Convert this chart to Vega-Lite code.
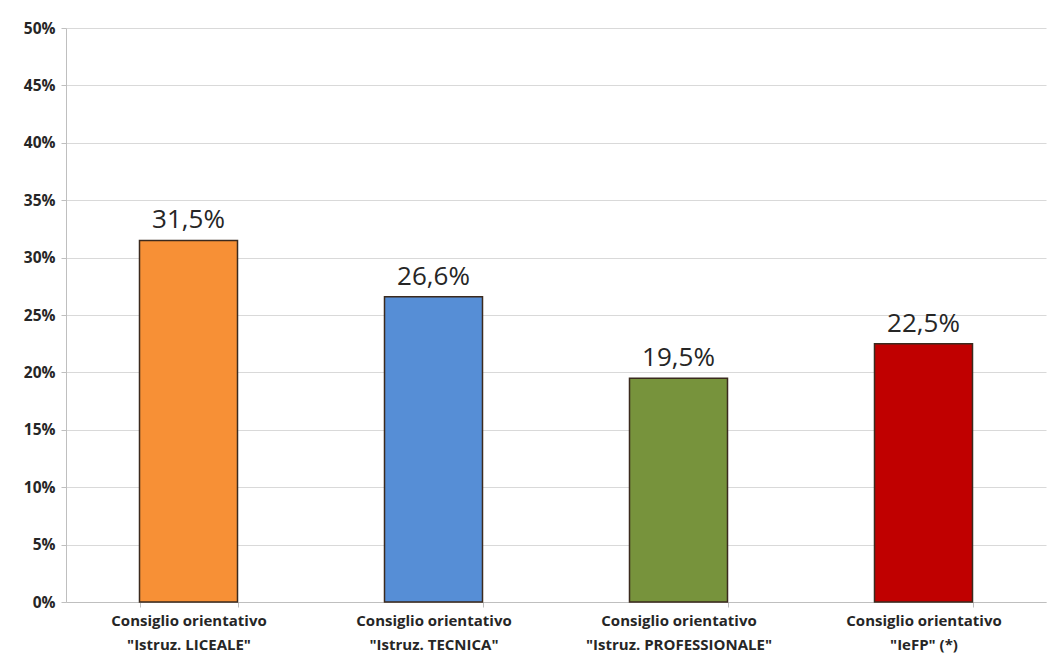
{
  "$schema": "https://vega.github.io/schema/vega-lite/v6.json",
  "width": 1048,
  "height": 660,
  "autosize": {"type": "fit", "contains": "padding"},
  "padding": {"left": 23, "top": 21, "right": 2, "bottom": 8},
  "background": "white",
  "config": {
    "locale": {"number": {"decimal": ",", "thousands": ".", "grouping": [3], "currency": ["€", ""]}},
    "view": {"stroke": null},
    "font": "Open Sans"
  },
  "data": {
    "values": [
      {"cat": "Consiglio orientativo\n\"Istruz. LICEALE\"", "value": 0.315, "color": "liceale"},
      {"cat": "Consiglio orientativo\n\"Istruz. TECNICA\"", "value": 0.266, "color": "tecnica"},
      {"cat": "Consiglio orientativo\n\"Istruz. PROFESSIONALE\"", "value": 0.195, "color": "prof"},
      {"cat": "Consiglio orientativo\n\"IeFP\" (*)", "value": 0.225, "color": "iefp"}
    ]
  },
  "encoding": {
    "x": {
      "field": "cat", "type": "nominal", "sort": null,
      "scale": {"paddingInner": 0.6, "paddingOuter": 0.3},
      "axis": {
        "title": null, "labelAngle": 0, "labelLimit": 0,
        "labelExpr": "split(datum.label, '\\n')",
        "labelFont": "Open Sans", "labelFontSize": 15, "labelFontWeight": "bold",
        "labelColor": "#262626", "labelPadding": 6, "labelLineHeight": 24,
        "domainColor": "#bfbfbf", "tickColor": "#bfbfbf", "tickBand": "extent", "tickSize": 5,
        "grid": false
      }
    },
    "y": {
      "field": "value", "type": "quantitative",
      "scale": {"domain": [0, 0.5]},
      "axis": {
        "title": null, "format": ".0%",
        "values": [0, 0.05, 0.1, 0.15, 0.2, 0.25, 0.3, 0.35, 0.4, 0.45, 0.5],
        "labelFont": "Open Sans", "labelFontSize": 15.5, "labelFontWeight": "bold",
        "labelColor": "#262626", "labelPadding": 6,
        "domainColor": "#bfbfbf", "tickColor": "#bfbfbf", "tickSize": 5,
        "gridColor": "#d9d9d9", "gridWidth": 1
      }
    }
  },
  "layer": [
    {
      "mark": {"type": "bar", "stroke": "#3b2a1e", "strokeWidth": 1.5},
      "encoding": {
        "color": {
          "field": "color", "type": "nominal",
          "scale": {"domain": ["liceale", "tecnica", "prof", "iefp"], "range": ["#F79036", "#568ED6", "#77933C", "#C00000"]},
          "legend": null
        }
      }
    },
    {
      "mark": {"type": "text", "dy": -20, "fontSize": 26, "font": "Open Sans", "color": "#262626"},
      "encoding": {
        "text": {"field": "value", "type": "quantitative", "format": ".1%"}
      }
    }
  ]
}
